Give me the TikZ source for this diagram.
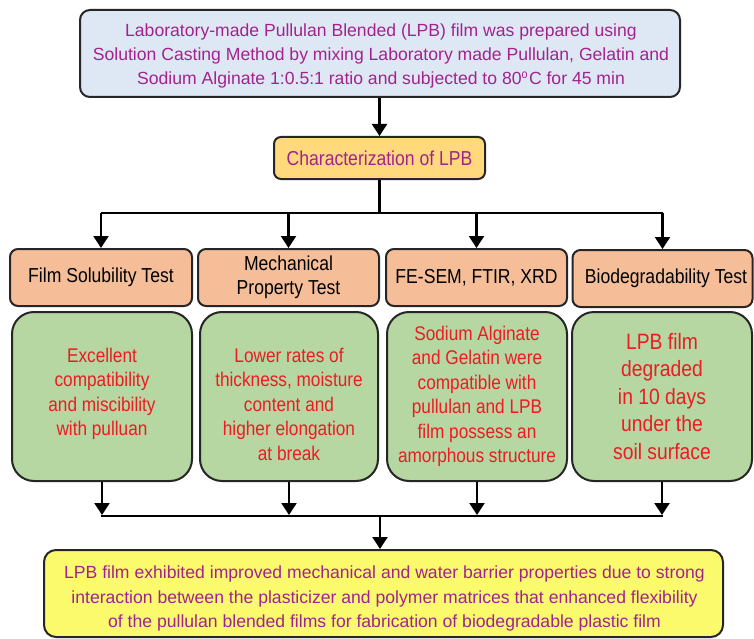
\documentclass[tikz,border=0pt]{standalone}
\usepackage{fontspec}
\setmainfont[FakeStretch=0.87]{Liberation Sans}
\newfontfamily\widefont{Liberation Sans}
\usetikzlibrary{arrows.meta}
\definecolor{topfill}{HTML}{DDE8F4}
\definecolor{purp}{HTML}{A3238E}
\definecolor{charfill}{HTML}{FFD97C}
\definecolor{orfill}{HTML}{F5BE98}
\definecolor{grfill}{HTML}{B6D6A2}
\definecolor{redtxt}{HTML}{EC1C24}
\definecolor{yelfill}{HTML}{FAFA6C}
\tikzset{
  box/.style={draw=black!85, line width=2pt, align=center, inner sep=0pt},
  txt/.style={align=center, inner sep=0pt},
  topbox/.style={box, fill=topfill, rounded corners=10pt},
  toptxt/.style={txt, text=purp, font=\widefont\fontsize{17.6}{24}\selectfont},
  charbox/.style={box, fill=charfill, rounded corners=7pt, text=purp, font=\fontsize{20.2}{23}\selectfont},
  orbox/.style={box, fill=orfill, rounded corners=8pt, text=black, font=\fontsize{20.2}{24}\selectfont},
  grbox/.style={box, fill=grfill, rounded corners=22pt, text=redtxt, font=\fontsize{19.8}{24.5}\selectfont},
  grtxt/.style={txt, text=redtxt, font=\fontsize{19.8}{24.5}\selectfont},
  botbox/.style={box, fill=yelfill, rounded corners=12pt},
  bottxt/.style={txt, text=purp, font=\widefont\fontsize{17.6}{24.5}\selectfont},
  arr/.style={line width=2.3pt, -{Triangle[width=15pt,length=12pt]}},
  ln/.style={line width=2.3pt}
}
\begin{document}
\begin{tikzpicture}[x=1pt,y=-1pt]
\useasboundingbox[fill=white] (0,0) rectangle (754,639);
\node[topbox, minimum width=600pt, minimum height=87pt] (top) at (380,53.5) {};
\node[toptxt] (toptext) at (381,56)
  {Laboratory-made Pullulan Blended (LPB) film was prepared using\\
   Solution Casting Method by mixing Laboratory made Pullulan, Gelatin and\\
   Sodium Alginate 1:0.5:1 ratio and subjected to 80$^{\mathrm{o}}$C for 45 min};
\node[charbox, minimum width=211pt, minimum height=42pt] (char) at (379.5,158) {Characterization of LPB};
\node[orbox, minimum width=182pt, minimum height=57pt] (o1) at (101,277.5) {Film Solubility Test};
\node[orbox, minimum width=181pt, minimum height=57pt] (o2) at (288.5,277.5) {Mechanical\\Property Test};
\node[orbox, minimum width=181pt, minimum height=57pt] (o3) at (476.5,277.5) {FE-SEM, FTIR, XRD};
\node[orbox, minimum width=180pt, minimum height=57pt] (o4) at (662.5,278.5) {\hspace*{7pt}Biodegradability Test};
\node[grbox, minimum width=180pt, minimum height=169pt] (g1) at (102,396.5) {};
\node[grtxt] (g1t) at (102,394) {Excellent\\compatibility\\and miscibility\\with pulluan};
\node[grbox, minimum width=178pt, minimum height=169pt] (g2) at (289,396.5) {};
\node[grtxt] (g2t) at (289,404) {Lower rates of\\thickness, moisture\\content and\\higher elongation\\at break};
\node[grbox, minimum width=180pt, minimum height=169pt] (g3) at (477,396.5) {Sodium Alginate\\and Gelatin were\\compatible with\\pullulan and LPB\\film possess an\\amorphous structure};
\node[grbox, minimum width=180pt, minimum height=169pt, font=\fontsize{22.2}{27.5}\selectfont] (g4) at (662,396.5) {LPB film\\degraded\\in 10 days\\under the\\soil surface};
\node[botbox, minimum width=679pt, minimum height=87pt] (bot) at (383.5,593.5) {};
\node[bottxt] (bottext) at (384.5,598.5)
  {LPB film exhibited improved mechanical and water barrier properties due to strong\\
   interaction between the plasticizer and polymer matrices that enhanced flexibility\\
   of the pullulan blended films for fabrication of biodegradable plastic film};
\coordinate (hub) at (379.5,213);
\coordinate (hubb) at (380,516);
\draw[arr] (top.south -| char.north) -- (char.north);
\draw[ln] (char.south) -- (hub);
\draw[ln] (hub -| o1.north) -- (hub -| o4.north);
\foreach \n in {o1,o2,o3,o4}{\draw[arr] (hub -| \n.north) -- (\n.north);}
\foreach \n in {g1,g2,g3,g4}{\draw[arr] (\n.south) -- ([yshift=1pt]hubb -| \n.south);}
\draw[ln] ([xshift=-1.15pt]hubb -| g1.south) -- ([xshift=1.15pt]hubb -| g4.south);
\draw[arr] (hubb) -- (bot.north -| hubb);
\end{tikzpicture}
\end{document}
